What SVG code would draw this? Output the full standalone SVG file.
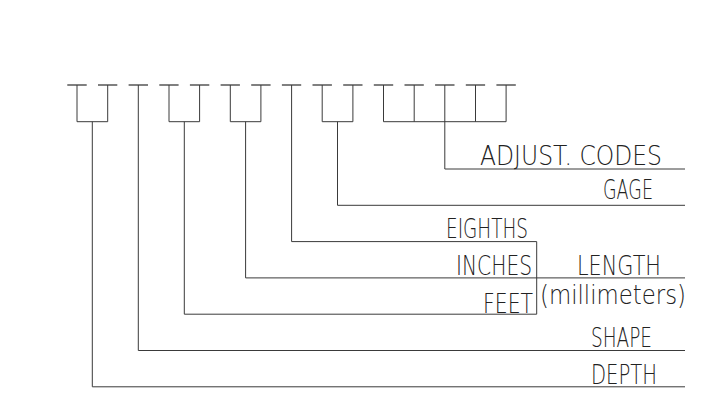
<svg xmlns="http://www.w3.org/2000/svg" width="715" height="403" viewBox="0 0 715 403">
<style>
  .ln { fill: none; stroke: #3a3a3a; stroke-width: 1; }
  .bar { fill: none; stroke: #2a2a2a; stroke-width: 1.2; }
  .lbl { font-family: "DejaVu Sans", "Liberation Sans", sans-serif; font-weight: 200; font-size: 26px; fill: #222; }
</style>
<rect width="715" height="403" fill="#ffffff"/>
<g id="slots">
  <g id="slot-1"><path class="bar" d="M67.3 85H86.7"/><path class="ln" d="M77 85V121.7"/></g>
  <g id="slot-2"><path class="bar" d="M98 85H117.3"/><path class="ln" d="M107.7 85V121.7"/></g>
  <g id="slot-3"><path class="bar" d="M128.6 85H148"/></g>
  <g id="slot-4"><path class="bar" d="M159.3 85H178.6"/><path class="ln" d="M169 85V121.7"/></g>
  <g id="slot-5"><path class="bar" d="M189.9 85H209.3"/><path class="ln" d="M199.6 85V121.7"/></g>
  <g id="slot-6"><path class="bar" d="M220.6 85H239.9"/><path class="ln" d="M230.3 85V121.7"/></g>
  <g id="slot-7"><path class="bar" d="M251.2 85H270.6"/><path class="ln" d="M260.9 85V121.7"/></g>
  <g id="slot-8"><path class="bar" d="M281.9 85H301.2"/></g>
  <g id="slot-9"><path class="bar" d="M312.5 85H331.9"/><path class="ln" d="M322.2 85V121.7"/></g>
  <g id="slot-10"><path class="bar" d="M343.2 85H362.5"/><path class="ln" d="M352.9 85V121.7"/></g>
  <g id="slot-11"><path class="bar" d="M373.8 85H393.2"/><path class="ln" d="M383.5 85V121.7"/></g>
  <g id="slot-12"><path class="bar" d="M404.5 85H423.8"/><path class="ln" d="M414.2 85V121.7"/></g>
  <g id="slot-13"><path class="bar" d="M435.1 85H454.5"/></g>
  <g id="slot-14"><path class="bar" d="M465.8 85H485.1"/><path class="ln" d="M475.5 85V121.7"/></g>
  <g id="slot-15"><path class="bar" d="M496.4 85H515.8"/><path class="ln" d="M506.1 85V121.7"/></g>
</g>
<g id="connectors">
  <path class="ln" d="M77 121.7H107.7M92.3 121.7V386.8H685"/>
  <path class="ln" d="M138.3 85V350.5H685"/>
  <path class="ln" d="M169 121.7H199.6M184.3 121.7V314.2H536.7"/>
  <path class="ln" d="M230.3 121.7H260.9M245.6 121.7V277.9H685"/>
  <path class="ln" d="M291.6 85V241.6H536.7V314.2"/>
  <path class="ln" d="M322.2 121.7H352.9M337.5 121.7V205.3H685"/>
  <path class="ln" d="M383.5 121.7H506.1M444.8 85V169H685"/>
</g>
<g id="label-adjust"><text class="lbl" x="480" y="165" textLength="182" lengthAdjust="spacingAndGlyphs">ADJUST. CODES</text></g>
<g id="label-gage"><text class="lbl" x="603" y="199" textLength="50" lengthAdjust="spacingAndGlyphs">GAGE</text></g>
<g id="label-eighths"><text class="lbl" x="446" y="238" textLength="82" lengthAdjust="spacingAndGlyphs">EIGHTHS</text></g>
<g id="label-inches"><text class="lbl" x="456" y="275" textLength="76" lengthAdjust="spacingAndGlyphs">INCHES</text></g>
<g id="label-length"><text class="lbl" x="577" y="275" textLength="84" lengthAdjust="spacingAndGlyphs">LENGTH</text></g>
<g id="label-mm"><text class="lbl" x="540" y="304" textLength="146" lengthAdjust="spacingAndGlyphs">(millimeters)</text></g>
<g id="label-feet"><text class="lbl" x="483" y="313" textLength="50" lengthAdjust="spacingAndGlyphs">FEET</text></g>
<g id="label-shape"><text class="lbl" x="591" y="346.5" textLength="61" lengthAdjust="spacingAndGlyphs">SHAPE</text></g>
<g id="label-depth"><text class="lbl" x="591" y="383.5" textLength="66" lengthAdjust="spacingAndGlyphs">DEPTH</text></g>
</svg>
